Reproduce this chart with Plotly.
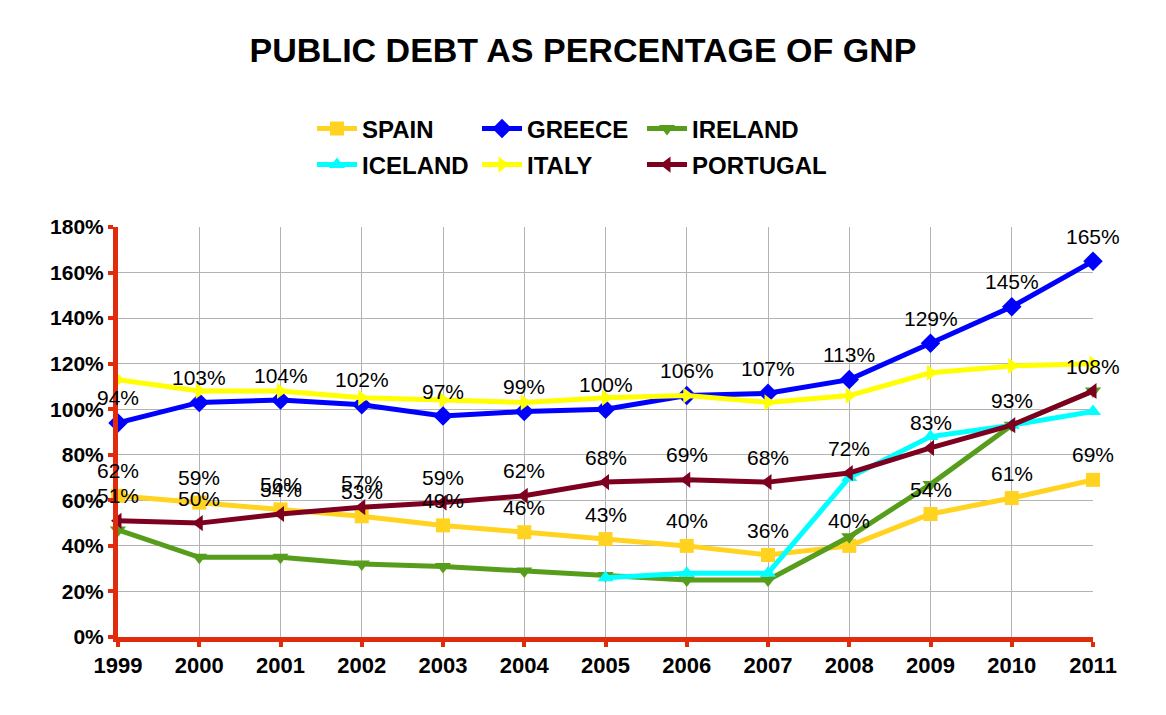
import plotly.graph_objects as go

years = [1999, 2000, 2001, 2002, 2003, 2004, 2005, 2006, 2007, 2008, 2009, 2010, 2011]
spain = [62, 59, 56, 53, 49, 46, 43, 40, 36, 40, 54, 61, 69]
greece = [94, 103, 104, 102, 97, 99, 100, 106, 107, 113, 129, 145, 165]
ireland = [47, 35, 35, 32, 31, 29, 27, 25, 25, 44, 67, 93, 108]
iceland = [None, None, None, None, None, None, 26, 28, 28, 70, 88, 93, 99]
italy = [113, 108, 108, 105, 104, 103, 105, 106, 103, 106, 116, 119, 120]
portugal = [51, 50, 54, 57, 59, 62, 68, 69, 68, 72, 83, 93, 108]

y_ticks = [0, 20, 40, 60, 80, 100, 120, 140, 160, 180]
y_tick_labels = [f"{v}%" for v in y_ticks]

FONT = "Liberation Sans, Arial, sans-serif"
AXIS_RED = "#e02b0c"

series = [
    ("SPAIN", spain, "#ffd320", "square", 14, "legend"),
    ("GREECE", greece, "#0000ff", "diamond", 15, "legend"),
    ("IRELAND", ireland, "#579d1c", "triangle-down", 14, "legend"),
    ("ICELAND", iceland, "#00ffff", "triangle-up", 14, "legend2"),
    ("ITALY", italy, "#ffff00", "triangle-right", 14, "legend2"),
    ("PORTUGAL", portugal, "#7e0021", "triangle-left", 14, "legend2"),
]

fig = go.Figure()
for name, vals, color, sym, size, leg in series:
    fig.add_trace(go.Scatter(
        x=years, y=vals, name=f"<b>{name}</b>", mode="lines+markers",
        line=dict(color=color, width=5),
        marker=dict(symbol=sym, size=size, color=color),
        legend=leg, cliponaxis=False,
    ))

# invisible spacer entries so the last legend column is not clipped
for leg in ("legend", "legend2"):
    fig.add_trace(go.Scatter(
        x=[None], y=[None], name=" ", mode="lines",
        line=dict(color="rgba(0,0,0,0)", width=0),
        legend=leg, hoverinfo="skip", showlegend=True,
    ))

annotations = []
for vals in (greece, spain, portugal):
    for x, v in zip(years, vals):
        annotations.append(dict(
            x=x, y=v, xref="x", yref="y", text=f"{v}%", showarrow=False,
            yshift=25, font=dict(family=FONT, size=21, color="black"),
        ))

legend_common = dict(orientation="h", x=312 / 1166, xanchor="left", xref="container",
                     yanchor="middle", yref="container",
                     entrywidth=110, entrywidthmode="pixels", itemwidth=40,
                     font=dict(family=FONT, size=24, color="black"),
                     bgcolor="rgba(0,0,0,0)", itemclick=False, itemdoubleclick=False)

fig.update_layout(
    width=1166, height=715,
    margin=dict(l=118, r=73, t=227, b=78),
    paper_bgcolor="white", plot_bgcolor="white",
    title=dict(text="<b>PUBLIC DEBT AS PERCENTAGE OF GNP</b>", x=0.5, xanchor="center",
               y=1 - 50 / 715, yanchor="middle", yref="container",
               font=dict(family=FONT, size=34, color="black")),
    font=dict(family=FONT, color="black"),
    annotations=annotations,
    legend=dict(legend_common, y=1 - 129 / 715),
    legend2=dict(legend_common, y=1 - 165 / 715),
    xaxis=dict(range=[1999, 2011], tickmode="array", tickvals=years,
               ticktext=[f"<b>{y}</b>" for y in years],
               showgrid=True, gridcolor="#b3b3b3", gridwidth=1,
               showline=True, linecolor=AXIS_RED, linewidth=5,
               ticks="outside", ticklen=5, tickwidth=4, tickcolor=AXIS_RED,
               tickfont=dict(family=FONT, size=22, color="black"), zeroline=False),
    yaxis=dict(range=[0, 180], tickmode="array", tickvals=y_ticks,
               ticktext=[f"<b>{t}</b>" for t in y_tick_labels],
               showgrid=True, gridcolor="#b3b3b3", gridwidth=1,
               showline=True, linecolor=AXIS_RED, linewidth=5,
               ticks="outside", ticklen=5, tickwidth=4, tickcolor=AXIS_RED,
               tickfont=dict(family=FONT, size=21, color="black"), zeroline=False),
)

fig.write_html("out.html")
